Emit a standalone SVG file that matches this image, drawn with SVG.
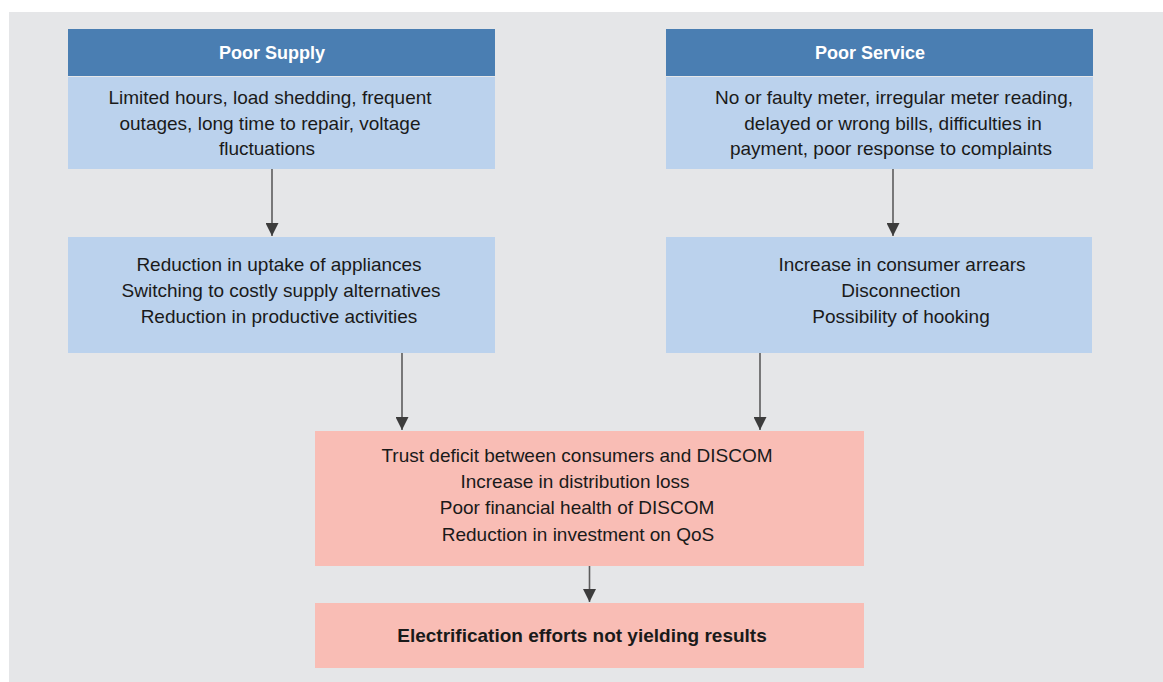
<svg xmlns="http://www.w3.org/2000/svg" width="1163" height="682" viewBox="0 0 1163 682">
  <style>
    .panel { fill: #e5e6e8; }
    .head { fill: #4a7eb2; }
    .body { fill: #bbd2ed; }
    .pink { fill: #f9bdb5; }
    .hd { font-family: "Liberation Sans", Arial, sans-serif; font-size: 18px; font-weight: bold; fill: #ffffff; text-anchor: middle; }
    .tx { font-family: "Liberation Sans", Arial, sans-serif; font-size: 19px; fill: #1a1a1a; text-anchor: middle; }
    .bd { font-weight: bold; }
    .conn { stroke: #5c5c5c; stroke-width: 1.6; fill: none; marker-end: url(#arrow); }
  </style>
  <defs>
    <marker id="arrow" markerUnits="userSpaceOnUse" markerWidth="14" markerHeight="13" refX="13" refY="6.5" orient="auto">
      <path d="M0,0 L13,6.5 L0,13 Z" fill="#3c3c3c"/>
    </marker>
  </defs>

  <rect class="panel" x="9" y="12" width="1154" height="670"/>

  <g id="poor-supply">
    <rect class="head" x="68" y="29" width="427" height="47"/>
    <rect class="body" x="68" y="77" width="427" height="92"/>
    <text class="hd" x="272" y="59">Poor Supply</text>
    <text class="tx" x="270" y="104">Limited hours, load shedding, frequent</text>
    <text class="tx" x="270" y="130">outages, long time to repair, voltage</text>
    <text class="tx" x="267" y="155">fluctuations</text>
  </g>

  <g id="poor-service">
    <rect class="head" x="666" y="29" width="427" height="47"/>
    <rect class="body" x="666" y="77" width="427" height="92"/>
    <text class="hd" x="870" y="59">Poor Service</text>
    <text class="tx" x="894" y="104">No or faulty meter, irregular meter reading,</text>
    <text class="tx" x="893" y="130">delayed or wrong bills, difficulties in</text>
    <text class="tx" x="891" y="155">payment, poor response to complaints</text>
  </g>

  <g id="supply-effects">
    <rect class="body" x="68" y="237" width="427" height="116"/>
    <text class="tx" x="279" y="271">Reduction in uptake of appliances</text>
    <text class="tx" x="281" y="297">Switching to costly supply alternatives</text>
    <text class="tx" x="279" y="323">Reduction in productive activities</text>
  </g>

  <g id="service-effects">
    <rect class="body" x="666" y="237" width="426" height="116"/>
    <text class="tx" x="902" y="271">Increase in consumer arrears</text>
    <text class="tx" x="901" y="297">Disconnection</text>
    <text class="tx" x="901" y="323">Possibility of hooking</text>
  </g>

  <g id="discom-impact">
    <rect class="pink" x="315" y="431" width="549" height="135"/>
    <text class="tx" x="577" y="462">Trust deficit between consumers and DISCOM</text>
    <text class="tx" x="575" y="488">Increase in distribution loss</text>
    <text class="tx" x="577" y="514">Poor financial health of DISCOM</text>
    <text class="tx" x="578" y="541">Reduction in investment on QoS</text>
  </g>

  <g id="outcome">
    <rect class="pink" x="315" y="603" width="549" height="65"/>
    <text class="tx bd" x="582" y="642">Electrification efforts not yielding results</text>
  </g>

  <g id="connectors">
    <line class="conn" x1="272" y1="169" x2="272" y2="236"/>
    <line class="conn" x1="893" y1="169" x2="893" y2="236"/>
    <line class="conn" x1="402" y1="353" x2="402" y2="430"/>
    <line class="conn" x1="760" y1="353" x2="760" y2="430"/>
    <line class="conn" x1="589.5" y1="566" x2="589.5" y2="602"/>
  </g>
</svg>
